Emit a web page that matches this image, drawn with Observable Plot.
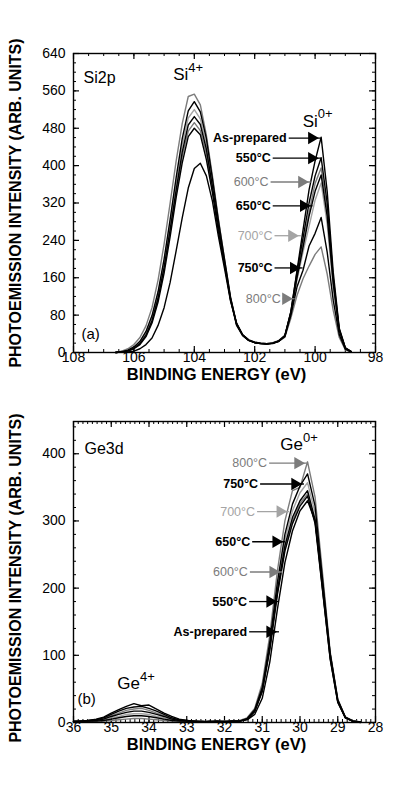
<!DOCTYPE html>
<html><head><meta charset="utf-8">
<script src="https://cdn.jsdelivr.net/npm/d3@7"></script>
<script src="https://cdn.jsdelivr.net/npm/@observablehq/plot@0.6"></script>
<style>
body{margin:0;background:#fff;}
#chart{width:403px;height:794px;font-family:"Liberation Sans",Arial,Helvetica,sans-serif;}
#chart svg{display:block;overflow:visible;}
</style></head><body><div id="chart"></div>
<script>
// ---------- series ----------
const seriesNames = ["As-prepared","550°C","600°C","650°C","700°C","750°C","800°C"];
const seriesColors = ["#000000","#000000","#7c7c7c","#000000","#a4a4a4","#000000","#7c7c7c"];
const labelWeights = ["bold","bold","normal","bold","normal","bold","normal"];

// ---------- panel (a) Si2p ----------
const siEnergy = [106.6,106.4,106.2,106.0,105.8,105.6,105.4,105.2,105.0,104.8,104.6,104.4,104.2,104.0,103.8,103.6,103.4,103.2,103.0,102.8,102.6,102.4,102.2,102.0,101.8,101.6,101.4,101.2,101.0,100.8,100.6,100.4,100.2,100.0,99.8,99.6,99.4,99.2,99.0,98.8];
const siAsPrep = [0,1,1,3,8,17,31,58,96,150,218,288,352,394,405,378,324,248,180,110,63,38,26,21,19,18,19,24,36,88,175,262,348,410,461,345,172,52,10,2];
const si550   = [0,1,3,8,17,34,63,108,170,248,332,406,462,480,466,413,342,258,188,112,58,36,26,21,19,18,20,25,36,88,172,245,320,378,417,320,160,50,10,2];
const si600   = [0,2,4,10,20,38,68,115,180,258,340,420,474,492,475,425,348,265,190,114,60,37,26,22,20,19,21,26,37,86,165,232,300,362,395,305,152,48,9,2];
const si650   = [0,1,4,9,19,37,68,116,182,263,348,429,487,505,488,435,355,270,193,115,60,37,26,21,19,18,20,25,36,84,160,225,292,345,380,292,148,47,9,1];
const si700   = [0,2,5,11,22,42,74,124,192,275,362,443,502,520,500,445,362,275,195,116,61,38,27,22,20,19,21,25,35,82,155,215,270,326,363,275,138,45,8,1];
const si750   = [0,2,5,12,24,45,79,130,200,285,375,458,517,537,515,458,372,282,200,118,62,38,27,22,20,19,20,24,34,80,140,176,228,255,289,215,112,38,7,1];
const si800   = [1,3,8,17,32,57,96,155,232,320,410,490,548,553,530,465,378,285,200,118,62,38,27,22,20,19,20,24,33,74,122,158,185,210,226,168,90,32,6,1];
const siXTicks = [108,106,104,102,100,98];
const siYTicks = [0,80,160,240,320,400,480,560,640];
const siLabelX = [100.94,101.47,101.54,101.47,101.41,101.41,101.14];
const siLabelY = [459,416,365,314,250,181,115];
const siTipX   = [99.88,99.88,100.21,100.15,100.54,100.48,100.74];
const siPeaks = [{base:"Si",sup:"4+",x:104.2,y:595},{base:"Si",sup:"0+",x:99.91,y:495}];

// ---------- panel (b) Ge3d ----------
const geEnergy = [36.0,35.8,35.6,35.4,35.2,35.0,34.8,34.6,34.4,34.2,34.0,33.8,33.6,33.4,33.2,33.0,32.8,32.6,32.4,32.2,32.0,31.8,31.6,31.4,31.2,31.0,30.8,30.6,30.4,30.2,30.0,29.8,29.6,29.4,29.2,29.0,28.8,28.6,28.4];
const geAsPrep = [2,2,3,5,8,14,19,24,28,25,26,20,14,9,5,3,2,2,1,2,2,2, 2,4,12,36,90,168,238,285,315,330,300,205,102,34,8,2,1];
const ge550   = [2,2,3,4,7,12,17,21,23,24,21,17,12,7,4,3,2,1,2,2,1,2, 2,5,16,46,108,190,255,296,322,337,296,195,94,30,7,2,1];
const ge600   = [2,2,3,4,6,10,14,18,20,21,18,14,10,6,3,2,2,2,1,2,2,2, 2,5,17,47,110,193,258,300,326,340,298,196,95,31,7,2,0];
const ge650   = [1,2,2,3,5,9,12,15,17,17,15,12,9,5,3,2,2,1,1,2,1,2, 2,5,17,48,112,196,263,305,330,345,302,198,96,31,7,2,0];
const ge700   = [1,2,2,3,4,7,9,12,13,13,12,9,7,4,2,2,1,2,1,1,2,2, 2,6,18,50,116,202,272,315,342,357,312,205,99,32,7,2,1];
const ge750   = [1,2,2,2,3,5,7,9,10,10,9,7,5,3,2,2,1,1,2,1,1,2, 2,6,19,52,120,208,280,325,352,370,322,212,102,33,8,2,1];
const ge800   = [1,1,2,2,2,3,4,5,6,6,5,4,3,2,2,1,1,1,1,1,1,2, 3,7,21,58,130,225,300,345,350,388,335,220,105,35,8,3,1];
const geXTicks = [36,35,34,33,32,31,30,29,28];
const geYTicks = [0,100,200,300,400];
const geLabelX = [31.40,31.40,31.38,31.32,31.19,31.11,30.87];
const geLabelY = [135,180,224,269,314,355,386];
const geTipX   = [30.61,30.61,30.53,30.45,30.34,29.95,29.87];
const gePeaks = [{base:"Ge",sup:"0+",x:29.92,y:413},{base:"Ge",sup:"4+",x:34.24,y:58}];

const yTitle = "PHOTOEMISSION INTENSITY (ARB. UNITS)";
const xTitle = "BINDING ENERGY (eV)";

function panel(o) {
  const W = 403, ml = 73, mr = 28;
  const FW = W - ml - mr, FH = o.height - o.mt - o.mb;
  const rows = o.curves.flatMap((vals, i) => o.E.map((e, j) => ({E: e, v: vals[j], s: i})));
  const order = [6, 4, 2, 0, 1, 3, 5];
  const marks = [];
  // ticks (inward)
  marks.push(Plot.ruleX(o.xMinor, {insetTop: FH - 3, strokeWidth: 1}));
  marks.push(Plot.ruleX(o.xMinor, {insetBottom: FH - 3, strokeWidth: 1}));
  marks.push(Plot.ruleX(o.xMajor, {insetTop: FH - 6, strokeWidth: 1.2}));
  marks.push(Plot.ruleX(o.xMajor, {insetBottom: FH - 6, strokeWidth: 1.2}));
  marks.push(Plot.ruleY(o.yMinor, {insetRight: FW - 3, strokeWidth: 1}));
  marks.push(Plot.ruleY(o.yMinor, {insetLeft: FW - 3, strokeWidth: 1}));
  marks.push(Plot.ruleY(o.yMajor, {insetRight: FW - 6, strokeWidth: 1.2}));
  marks.push(Plot.ruleY(o.yMajor, {insetLeft: FW - 6, strokeWidth: 1.2}));
  // curves
  for (const i of order) {
    marks.push(Plot.line(rows.filter(d => d.s === i), {x: "E", y: "v", stroke: seriesColors[i], strokeWidth: 1.4, strokeLinejoin: "round"}));
  }
  marks.push(Plot.frame({stroke: "#000", strokeWidth: 1.4}));
  // tick labels
  marks.push(Plot.text(o.xMajor, {x: d => d, frameAnchor: "bottom", dy: 9, fontSize: 14}));
  marks.push(Plot.text(o.yMajor, {y: d => d, frameAnchor: "left", dx: -8, textAnchor: "end", fontSize: 14}));
  // titles
  marks.push(Plot.text([xTitle], {frameAnchor: "bottom", dy: 27, dx: -8, fontSize: 16.5, fontWeight: "bold"}));
  marks.push(Plot.text([yTitle], {frameAnchor: "left", textAnchor: "middle", dx: -58, dy: o.yTitleDy, rotate: -90, fontSize: 16, fontWeight: "bold"}));
  marks.push(Plot.text([o.name], {frameAnchor: "top-left", dx: o.nameDx, dy: o.nameDy, textAnchor: "start", fontSize: 16}));
  marks.push(Plot.text([o.tag], {frameAnchor: "bottom-left", dx: o.tagDx, dy: o.tagDy, textAnchor: "start", fontSize: 15}));
  // peak labels with superscripts
  marks.push(Plot.text(o.peaks, {x: "x", y: "y", text: "base", textAnchor: "end", fontSize: 17}));
  marks.push(Plot.text(o.peaks, {x: "x", y: "y", text: "sup", textAnchor: "start", dy: -7, fontSize: 13}));
  // temperature labels with arrows
  seriesNames.forEach((n, i) => {
    const a = [{n, x: o.labelX[i], y: o.labelY[i], tip: o.tipX[i]}];
    marks.push(Plot.link(a, {x1: "x", x2: "tip", y1: "y", y2: "y", stroke: seriesColors[i], strokeWidth: 1.3, dx: 2}));
    marks.push(Plot.dot(a, {x: "tip", y: "y", symbol: "triangle", r: 4.6, rotate: 90, dx: -7, fill: seriesColors[i], stroke: "none"}));
    marks.push(Plot.text(a, {x: "x", y: "y", text: "n", textAnchor: "end", fontSize: 12.5, fontWeight: labelWeights[i], fill: seriesColors[i]}));
  });
  return Plot.plot({
    width: W, height: o.height,
    marginLeft: ml, marginRight: mr, marginTop: o.mt, marginBottom: o.mb,
    x: {domain: o.xDomain, axis: null},
    y: {domain: o.yDomain, axis: null},
    style: {fontFamily: '"Liberation Sans", Arial, Helvetica, sans-serif', fontSize: "14px", background: "transparent", overflow: "visible", color: "#000"},
    marks
  });
}

const chart = document.getElementById("chart");
chart.appendChild(panel({
  E: siEnergy, curves: [siAsPrep, si550, si600, si650, si700, si750, si800],
  xDomain: [108, 98], yDomain: [0, 640],
  xMajor: siXTicks, xMinor: d3.range(98, 108.01, 0.5),
  yMajor: siYTicks, yMinor: d3.range(0, 640.1, 20),
  height: 392, mt: 53, mb: 40,
  name: "Si2p", nameDx: 10, nameDy: 18, tag: "(a)", tagDx: 8, tagDy: -14, yTitleDy: 0,
  peaks: siPeaks, labelX: siLabelX, labelY: siLabelY, tipX: siTipX
}));
chart.appendChild(panel({
  E: geEnergy, curves: [geAsPrep, ge550, ge600, ge650, ge700, ge750, ge800],
  xDomain: [36, 28], yDomain: [0, 448],
  xMajor: geXTicks, xMinor: d3.range(28, 36.01, 0.125),
  yMajor: geYTicks, yMinor: d3.range(0, 440.1, 20),
  height: 402, mt: 29, mb: 72,
  name: "Ge3d", nameDx: 11, nameDy: 21, tag: "(b)", tagDx: 4, tagDy: -19, yTitleDy: 6,
  peaks: gePeaks, labelX: geLabelX, labelY: geLabelY, tipX: geTipX
}));
</script>
</body></html>
